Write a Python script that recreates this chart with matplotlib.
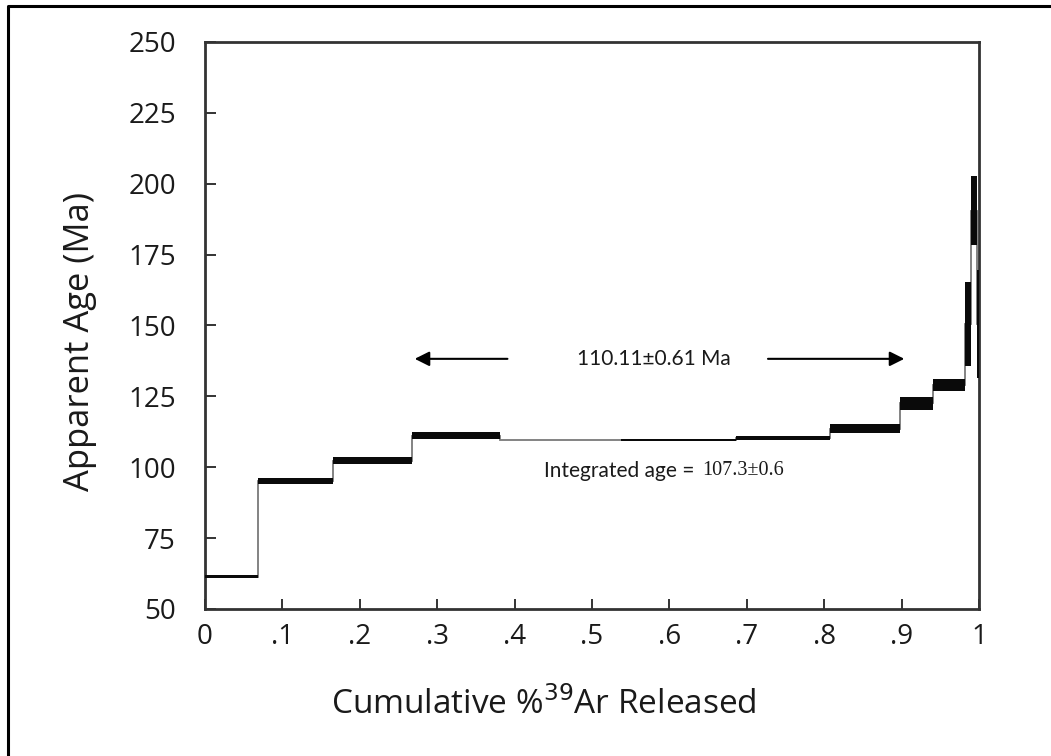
import matplotlib

matplotlib.use("Agg")
import matplotlib.pyplot as plt
from matplotlib.lines import Line2D

# Step heating spectrum: cumulative 39Ar fraction edges, apparent ages and 1-sigma errors
step_edges = [0.0, 0.068, 0.165, 0.267, 0.381, 0.538, 0.686, 0.808,
              0.898, 0.941, 0.982, 0.990, 0.997, 1.0]
step_ages = [61.4, 95.1, 102.3, 111.1, 109.55, 109.55, 110.3,
             113.6, 122.5, 128.9, 150.5, 190.5, 150.5]
step_errs = [0.5, 1.05, 1.2, 1.2, 0.12, 0.3, 0.75,
             1.5, 2.35, 2.1, 14.8, 12.2, 19.0]

x_ticks = [0, 0.1, 0.2, 0.3, 0.4, 0.5, 0.6, 0.7, 0.8, 0.9, 1.0]
x_tick_labels = ["0", ".1", ".2", ".3", ".4", ".5", ".6", ".7", ".8", ".9", "1"]
y_ticks = [50, 75, 100, 125, 150, 175, 200, 225, 250]

plateau_age = "110.11\u00b10.61 Ma"
plateau_span = (0.271, 0.9035)
integrated_age = "107.3\u00b10.6"

SANS = ["Open Sans", "DejaVu Sans"]
NOTE = ["Lato", "DejaVu Sans"]

fig = plt.figure(figsize=(10.51, 7.56), dpi=100)
ax = fig.add_axes([0.195, 0.1946, 0.7365, 0.75])

# error boxes for each heating step
widths = [b - a for a, b in zip(step_edges[:-1], step_edges[1:])]
bottoms = [a - e for a, e in zip(step_ages, step_errs)]
heights = [2 * e for e in step_errs]
ax.stairs(step_ages, step_edges, baseline=None, color="#7a7a7a", lw=1.3, zorder=2)
ax.bar(step_edges[:-1], heights, bottom=bottoms, width=widths, align="edge",
       color="#0a0a0a", edgecolor="none", zorder=3)

ax.set_xlim(0, 1)
ax.set_ylim(50, 250)
ax.set_xticks(x_ticks)
ax.set_xticklabels(x_tick_labels)
ax.set_yticks(y_ticks)
ax.tick_params(axis="both", direction="in", width=1.4, color="#333333",
               labelsize=20, colors="#1a1a1a")
ax.tick_params(axis="y", length=8, pad=21)
ax.tick_params(axis="x", length=7, pad=10)
for lab in ax.get_xticklabels() + ax.get_yticklabels():
    lab.set_family(SANS)
for sp in ax.spines.values():
    sp.set_linewidth(2.0)
    sp.set_color("#333333")

ax.set_ylabel("Apparent Age (Ma)", fontsize=24.8, family=SANS, color="#1a1a1a")
ax.yaxis.set_label_coords(-0.1615, 0.472)
ax.set_xlabel("Cumulative %$^{39}$Ar Released", fontsize=24, family=SANS,
              color="#1a1a1a")
ax.xaxis.set_label_coords(0.438, -0.169)
ax.xaxis.label.set_va("center")
ax.yaxis.label.set_va("center")

# plateau arrows and label
y_arrow = 138.2
ax.annotate("", xy=(plateau_span[0], y_arrow), xytext=(0.3908, y_arrow),
            arrowprops=dict(arrowstyle="-|>", color="black", lw=1.5,
                            mutation_scale=22, shrinkA=0, shrinkB=0))
ax.annotate("", xy=(plateau_span[1], y_arrow), xytext=(0.7274, y_arrow),
            arrowprops=dict(arrowstyle="-|>", color="black", lw=1.5,
                            mutation_scale=22, shrinkA=0, shrinkB=0))
ax.text(0.580, y_arrow, plateau_age, ha="center", va="center", fontsize=15,
        family=NOTE, color="#1a1a1a")

# integrated age: sans caption followed by serif value
ax.text(0.633, 98.7, "Integrated age =", ha="right", va="center", fontsize=15,
        family=NOTE, color="#1a1a1a")
ax.text(0.643, 98.7, integrated_age, ha="left", va="center", fontsize=14.5,
        family=["Liberation Serif", "DejaVu Serif"], color="#1a1a1a")

# outer frame (left and top edges)
fx = 8 / 1051
fy = 1 - 5.5 / 756
fig.add_artist(Line2D([fx, fx, 1.0], [0.0, fy, fy], transform=fig.transFigure,
                      color="black", lw=2.2))

fig.savefig("out.png", dpi=100)
